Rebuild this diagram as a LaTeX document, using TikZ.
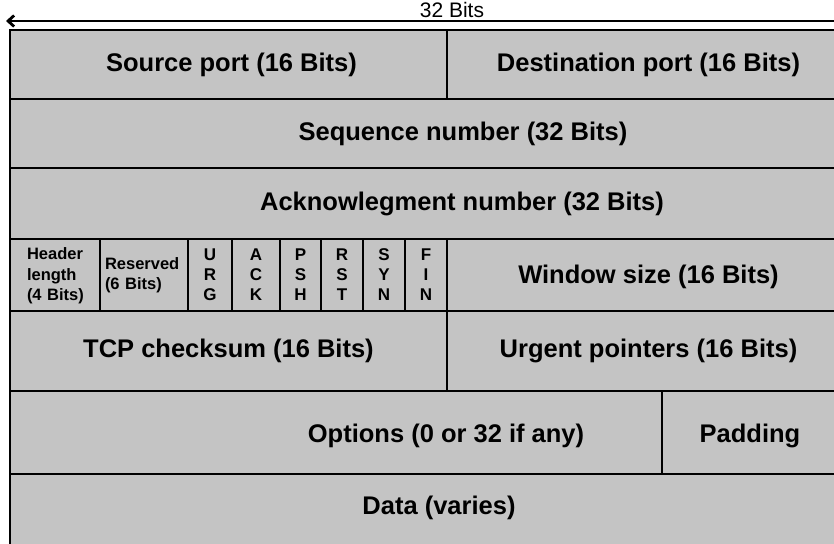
\documentclass[tikz,border=0pt]{standalone}
\usepackage{fontspec}
\setmainfont{Liberation Sans}
\usetikzlibrary{positioning,arrows.meta}
\definecolor{cellgray}{HTML}{C4C4C4}

\begin{document}
\begin{tikzpicture}[x=1pt,y=-1pt,
field/.style={draw,line width=2.8pt,fill=cellgray,inner sep=0pt,outer sep=0pt,
font=\fontsize{25.5}{30}\selectfont\bfseries},
big/.style={font=\fontsize{25.5}{30}\selectfont\bfseries},
flag/.style={field,align=center,font=\fontsize{17}{20}\selectfont\bfseries},
note/.style={field,align=left,font=\fontsize{16.5}{20.5}\selectfont\bfseries}]
\useasboundingbox (0,0) rectangle (834,543);
\clip (0,0) rectangle (834,543);
% width arrow
\coordinate (rightend) at (850,21);
\coordinate (leftend) at (6,21);
\draw[line width=2.8pt,-{Straight Barb[length=6pt,width=11pt]}] (rightend)--(leftend);
\node[font=\fontsize{21}{25}\selectfont] (bits) at (452,10) {32 Bits};
% row 1
\node[field,minimum width=437,minimum height=69,
label={[big,xshift=3pt]center:Source port (16 Bits)}] (srcport) at (228.5,64.5) {};
\node[field,minimum width=403,minimum height=69] (dstport) at (648.5,64.5) {Destination port (16 Bits)};
% row 2 and 3
\node[field,minimum width=840,minimum height=69,
label={[big,xshift=33pt]center:Sequence number (32 Bits)}] (seqnum) at (430,133.5) {};
\node[field,minimum width=840,minimum height=71,
label={[big,xshift=32pt]center:Acknowlegment number (32 Bits)}] (acknum) at (430,203.5) {};
% row 4: offset, reserved, flags, window
\node[note,minimum width=90,minimum height=72,
label={[note,draw=none,fill=none,text width=64pt,xshift=4pt,yshift=-1pt]center:Header\\length\\(4 Bits)}] (hlen) at (55,275) {};
\node[note,minimum width=88,minimum height=72,text width=78pt] (reserved) at (144,275) {Reserved\\(6 Bits)};
\node[flag,minimum width=44,minimum height=72] (urg) at (210,275) {U\\R\\G};
\node[flag,minimum width=48,minimum height=72] (ack) at (256,275) {A\\C\\K};
\node[flag,minimum width=41,minimum height=72] (psh) at (300.5,275) {P\\S\\H};
\node[flag,minimum width=42,minimum height=72] (rst) at (342,275) {R\\S\\T};
\node[flag,minimum width=42,minimum height=72] (syn) at (384,275) {S\\Y\\N};
\node[flag,minimum width=42,minimum height=72] (fin) at (426,275) {F\\I\\N};
\node[field,minimum width=403,minimum height=72,
label={[big,yshift=-2pt]center:Window size (16 Bits)}] (window) at (648.5,275) {};
% row 5
\node[field,minimum width=437,minimum height=80] (checksum) at (228.5,351) {TCP checksum (16 Bits)};
\node[field,minimum width=403,minimum height=80] (urgptr) at (648.5,351) {Urgent pointers (16 Bits)};
% row 6 and 7
\node[field,minimum width=652,minimum height=83,
label={[big,xshift=110pt,yshift=-3pt]center:Options (0 or 32 if any)}] (options) at (336,432.5) {};
\node[field,minimum width=188,minimum height=83,
label={[big,xshift=-6pt,yshift=-3pt]center:Padding}] (padding) at (756,432.5) {};
\node[field,minimum width=840,minimum height=74,
label={[big,xshift=9pt,yshift=3pt]center:Data (varies)}] (data) at (430,511) {};
\end{tikzpicture}
\end{document}
